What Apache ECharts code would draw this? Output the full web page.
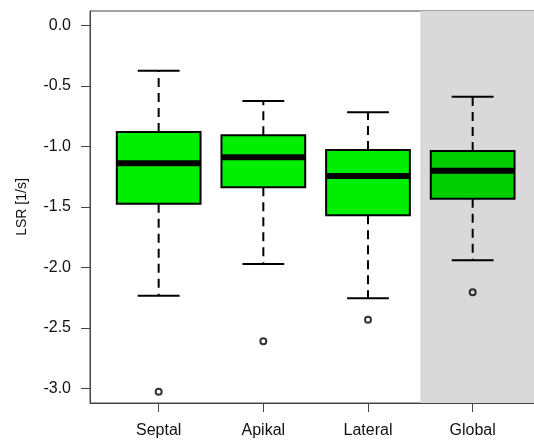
<!DOCTYPE html>
<html>
<head>
<meta charset="utf-8">
<script src="https://cdn.jsdelivr.net/npm/echarts@6/dist/echarts.min.js"></script>
<style>html,body{margin:0;padding:0;background:#fff}#c{width:534px;height:441px}</style>
</head>
<body>
<div id="c"></div>
<script>
var categories = ['Septal', 'Apikal', 'Lateral', 'Global'];
var whiskerLow  = [-2.233, -1.971, -2.255, -1.940];
var q1          = [-1.473, -1.337, -1.569, -1.431];
var median      = [-1.139, -1.089, -1.244, -1.200];
var q3          = [-0.880, -0.907, -1.029, -1.037];
var whiskerHigh = [-0.374, -0.624, -0.717, -0.588];
var outliers    = [[-3.027], [-2.610], [-2.431], [-2.205]];
var yTicks = [0, -0.5, -1.0, -1.5, -2.0, -2.5, -3.0];
var boxColors = ['#00EE00', '#00EE00', '#00EE00', '#00CD00'];

var boxData = categories.map(function (c, i) {
  return [i + 1, whiskerLow[i], q1[i], median[i], q3[i], whiskerHigh[i]];
});
var outData = [];
outliers.forEach(function (arr, i) { arr.forEach(function (v) { outData.push([i + 1, v]); }); });

function renderBox(params, api) {
  var x = api.value(0);
  var lo = api.coord([x, api.value(1)]);
  var b1 = api.coord([x, api.value(2)]);
  var md = api.coord([x, api.value(3)]);
  var b3 = api.coord([x, api.value(4)]);
  var hi = api.coord([x, api.value(5)]);
  var left = api.coord([x - 0.4, 0])[0];
  var right = api.coord([x + 0.4, 0])[0];
  var cl = api.coord([x - 0.2, 0])[0];
  var cr = api.coord([x + 0.2, 0])[0];
  var cx = lo[0];
  var dash = {stroke: '#000', lineWidth: 2, lineDash: [9, 6]};
  var solid = {stroke: '#000', lineWidth: 2};
  return {
    type: 'group',
    children: [
      {type: 'line', shape: {x1: cx, y1: b1[1], x2: cx, y2: lo[1]}, style: dash},
      {type: 'line', shape: {x1: cx, y1: b3[1], x2: cx, y2: hi[1]}, style: dash},
      {type: 'line', shape: {x1: cl, y1: lo[1], x2: cr, y2: lo[1]}, style: solid},
      {type: 'line', shape: {x1: cl, y1: hi[1], x2: cr, y2: hi[1]}, style: solid},
      {type: 'rect', shape: {x: left, y: b3[1], width: right - left, height: b1[1] - b3[1]},
        style: {fill: boxColors[params.dataIndex], stroke: '#000', lineWidth: 2}},
      {type: 'line', shape: {x1: left, y1: md[1], x2: right, y2: md[1]}, style: {stroke: '#000', lineWidth: 6}}
    ]
  };
}

var chart = echarts.init(document.getElementById('c'));
chart.setOption({
  animation: false,
  backgroundColor: '#fff',
  grid: {left: 90, top: 11, right: 0, height: 392, show: true, borderColor: '#444', borderWidth: 1, backgroundColor: 'transparent'},
  xAxis: {
    type: 'value', min: 0.344, max: 4.586, z: 10,
    splitLine: {show: false},
    axisLine: {show: true, onZero: false, lineStyle: {color: '#444', width: 1}},
    axisTick: {show: true, length: 9, lineStyle: {color: '#444'}, customValues: [1, 2, 3, 4]},
    axisLabel: {customValues: [1, 2, 3, 4], margin: 20, color: '#111', fontSize: 16, fontFamily: 'Liberation Sans, Arial, sans-serif',
      formatter: function (v) { return categories[Math.round(v) - 1] || ''; }}
  },
  yAxis: {
    type: 'value', min: -3.12, max: 0.12, z: 10,
    name: 'LSR [1/s]', nameLocation: 'middle', nameGap: 61,
    nameTextStyle: {fontSize: 14, color: '#111', fontFamily: 'Liberation Sans, Arial, sans-serif'},
    splitLine: {show: false},
    axisLine: {show: true, onZero: false, lineStyle: {color: '#444', width: 1}},
    axisTick: {show: true, length: 9, lineStyle: {color: '#444'}, customValues: yTicks},
    axisLabel: {customValues: yTicks, margin: 19, color: '#111', fontSize: 16, fontFamily: 'Liberation Sans, Arial, sans-serif',
      formatter: function (v) { return v.toFixed(1); }}
  },
  series: [
    {type: 'line', data: [], z: 1, silent: true,
      markArea: {silent: true, itemStyle: {color: '#D9D9D9'}, data: [[{xAxis: 3.5}, {xAxis: 4.586}]]}},
    {type: 'custom', z: 3, renderItem: renderBox, data: boxData, encode: {x: 0, y: [1, 2, 3, 4, 5]}},
    {type: 'scatter', z: 4, data: outData, symbol: 'circle', symbolSize: 6,
      itemStyle: {color: 'transparent', borderColor: '#000', borderWidth: 2}}
  ]
});
</script>
</body>
</html>
